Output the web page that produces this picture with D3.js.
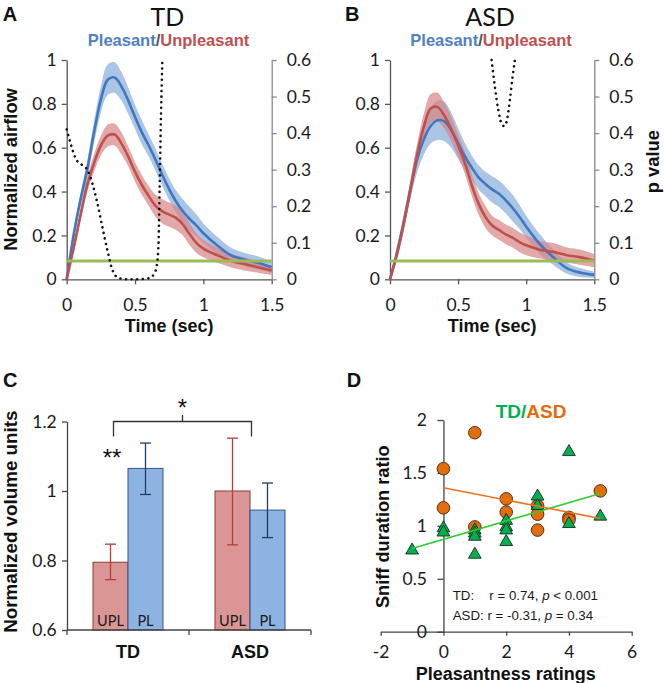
<!DOCTYPE html>
<html><head><meta charset="utf-8">
<script src="https://cdn.jsdelivr.net/npm/d3@7"></script>
<style>body{margin:0;background:#fff} svg{display:block}</style>
</head><body>
<svg id="c" width="664" height="683"></svg>
<script>
// ---------- DATA ----------
const timeSec = [0,0.05,0.1,0.15,0.2,0.25,0.3,0.35,0.4,0.45,0.5,0.55,0.6,0.65,0.7,0.75,0.8,0.85,0.9,0.95,1.0,1.1,1.2,1.3,1.4,1.5];
const tdPleasant      = [0,0.2,0.36,0.5,0.67,0.82,0.91,0.92,0.88,0.815,0.74,0.67,0.61,0.545,0.475,0.41,0.355,0.31,0.275,0.245,0.21,0.155,0.11,0.09,0.075,0.055];
const tdPleasantSem   = [0.01,0.02,0.03,0.04,0.05,0.06,0.07,0.07,0.065,0.06,0.055,0.055,0.05,0.05,0.05,0.05,0.05,0.055,0.055,0.05,0.045,0.04,0.035,0.03,0.03,0.025];
const tdUnpleasant    = [0,0.14,0.29,0.43,0.53,0.61,0.655,0.66,0.62,0.56,0.49,0.43,0.38,0.335,0.31,0.295,0.28,0.25,0.205,0.165,0.14,0.11,0.085,0.07,0.055,0.04];
const tdUnpleasantSem = [0.005,0.015,0.025,0.035,0.04,0.045,0.05,0.05,0.05,0.045,0.045,0.045,0.045,0.05,0.055,0.055,0.055,0.05,0.05,0.045,0.04,0.035,0.03,0.03,0.025,0.02];
const asdPleasant      = [0,0.12,0.26,0.41,0.55,0.64,0.70,0.725,0.72,0.68,0.62,0.56,0.51,0.465,0.435,0.41,0.39,0.36,0.325,0.285,0.24,0.16,0.10,0.05,0.03,0.02];
const asdPleasantSem   = [0.01,0.02,0.03,0.04,0.06,0.07,0.08,0.09,0.09,0.08,0.07,0.06,0.055,0.055,0.055,0.06,0.06,0.06,0.06,0.055,0.05,0.045,0.035,0.025,0.02,0.015];
const asdUnpleasant    = [0,0.11,0.25,0.41,0.57,0.70,0.78,0.785,0.745,0.685,0.61,0.53,0.43,0.345,0.285,0.245,0.225,0.205,0.19,0.17,0.155,0.135,0.125,0.11,0.1,0.085];
const asdUnpleasantSem = [0.005,0.02,0.03,0.04,0.05,0.06,0.065,0.065,0.06,0.055,0.05,0.05,0.05,0.05,0.05,0.045,0.045,0.045,0.045,0.045,0.045,0.04,0.04,0.035,0.035,0.03];

const tdPTime  = [0,0.03,0.066,0.115,0.151,0.188,0.225,0.261,0.298,0.335,0.383,0.45,0.52,0.6,0.64,0.66,0.672,0.68,0.69,0.70];
const tdPValue = [0.41,0.37,0.33,0.312,0.30,0.262,0.207,0.143,0.079,0.025,0.003,0,0,0.003,0.015,0.04,0.10,0.25,0.45,0.6];
const asdPTime  = [0.746,0.77,0.795,0.819,0.839,0.856,0.88,0.9,0.917];
const asdPValue = [0.6,0.527,0.463,0.426,0.419,0.431,0.49,0.554,0.6];
const alphaLevel = 0.05;

const airflowTicks = [0,0.2,0.4,0.6,0.8,1];
const pTicks = [0,0.1,0.2,0.3,0.4,0.5,0.6];
const timeTicks = [0,0.5,1,1.5];

const groups = ['TD','ASD'];
const conditions = ['UPL','PL'];
const volumeUPL = [0.795, 1.0];
const volumeUPLLow = [0.745, 0.845];
const volumeUPLHigh = [0.847, 1.152];
const volumePL = [1.065, 0.945];
const volumePLLow = [0.99, 0.866];
const volumePLHigh = [1.138, 1.023];
const volumeTicks = [0.6,0.8,1,1.2];

const tdRating = [-1,0,0,1,1,1,1,2,2,2,2,3,3,4,4,5];
const tdRatio  = [0.78,0.99,0.95,0.97,0.94,0.91,0.74,1.06,1.0,0.97,0.86,1.29,1.2,1.71,1.03,1.10];
const asdRating = [0,0,1,1,2,2,3,3,3,4,4,5];
const asdRatio  = [1.54,1.17,1.88,0.99,1.255,1.13,1.19,1.11,0.96,1.08,1.055,1.33];
const tdFitX = [-1,5], tdFitY = [0.787,1.305];
const asdFitX = [0,5], asdFitY = [1.36,1.07];
const ratingTicks = [-2,0,2,4,6];
const ratioTicks = [0,0.5,1,1.5,2];

// ---------- STYLE ----------
const TICK_FONT = 'Lato, "Open Sans", sans-serif';
const BOLD_FONT = '"Liberation Sans", Arial, sans-serif';
const BLUE = '#3f78bf', BLUE_BAND = '#86acdc';
const RED = '#c0504d', RED_BAND = '#d68583';
const fmt = d => String(+d.toFixed(2));
const svg = d3.select('#c');

function styleAxis(g, color) {
  g.selectAll('path, line').attr('stroke', color).attr('stroke-width', 1.3);
  g.selectAll('text').attr('fill', '#1a1a1a').attr('font-family', TICK_FONT).attr('font-size', 17.5);
  g.attr('font-family', null).attr('font-size', null);
}
function vlabel(x, y, text, size) {
  svg.append('text').attr('transform', `translate(${x},${y}) rotate(-90)`)
    .attr('text-anchor', 'middle').attr('font-family', BOLD_FONT).attr('font-weight', 'bold')
    .attr('font-size', size).attr('fill', '#111').text(text);
}
function letter(x, y, t) {
  svg.append('text').attr('x', x).attr('y', y).attr('font-family', BOLD_FONT).attr('font-weight', 'bold')
    .attr('font-size', 20).attr('fill', '#111').text(t);
}

// ---------- PANELS A & B ----------
function timePanel(o) {
  const x = d3.scaleLinear().domain([0,1.5]).range([o.left, o.right]);
  const y = d3.scaleLinear().domain([0,1]).range([279.3, 60]);
  const yp = d3.scaleLinear().domain([0,0.6]).range([279.3, 60]);
  const g = svg.append('g');

  const ax = g.append('g').attr('transform', `translate(0,279.3)`)
    .call(d3.axisBottom(x).tickValues(timeTicks).tickFormat(fmt).tickSize(5).tickSizeOuter(0).tickPadding(14));
  styleAxis(ax, '#555');
  const al = g.append('g').attr('transform', `translate(${o.left},0)`)
    .call(d3.axisLeft(y).tickValues(airflowTicks).tickFormat(fmt).tickSize(5).tickSizeOuter(0).tickPadding(5));
  styleAxis(al, '#555');
  const ar = g.append('g').attr('transform', `translate(${o.right},0)`)
    .call(d3.axisRight(yp).tickValues(pTicks).tickFormat(fmt).tickSize(5).tickSizeOuter(0).tickPadding(10));
  styleAxis(ar, '#8a8a8a');

  const rows = (m, s) => timeSec.map((t, i) => ({t, m: m[i], s: s[i]}));
  const curve = d3.curveCatmullRom.alpha(0.5);
  const area = d3.area().x(d => x(d.t)).y0(d => y(Math.max(0, d.m - d.s))).y1(d => y(d.m + d.s)).curve(curve);
  const line = d3.line().x(d => x(d.t)).y(d => y(d.m)).curve(curve);
  const P = rows(o.pl, o.plSem), U = rows(o.upl, o.uplSem);

  g.append('path').attr('d', area(P)).attr('fill', BLUE_BAND).attr('opacity', 0.7);
  g.append('path').attr('d', area(U)).attr('fill', RED_BAND).attr('opacity', 0.7);
  g.append('path').attr('d', line(P)).attr('fill', 'none').attr('stroke', BLUE).attr('stroke-width', 2.6);
  g.append('path').attr('d', line(U)).attr('fill', 'none').attr('stroke', RED).attr('stroke-width', 2.6);

  g.append('line').attr('x1', x(0)).attr('x2', x(1.5)).attr('y1', yp(alphaLevel)).attr('y2', yp(alphaLevel))
    .attr('stroke', '#9bbb59').attr('stroke-width', 3);

  const pl = d3.line().x((d, i) => x(o.pT[i])).y(d => yp(d)).curve(d3.curveMonotoneX);
  g.append('path').attr('d', pl(o.pV)).attr('fill', 'none').attr('stroke', '#111')
    .attr('stroke-width', 2.6).attr('stroke-linecap', 'round').attr('stroke-dasharray', '0.01 5.6');

  // titles
  g.append('text').attr('x', o.titleX).attr('y', 26).attr('text-anchor', 'middle')
    .attr('font-family', TICK_FONT).attr('font-size', 25).attr('fill', '#111').text(o.title);
  const st = g.append('text').attr('x', o.titleX + 1).attr('y', 46.3).attr('text-anchor', 'middle')
    .attr('font-family', BOLD_FONT).attr('font-weight', 'bold').attr('font-size', 16.5);
  st.append('tspan').attr('fill', '#4f81c4').text('Pleasant');
  st.append('tspan').attr('fill', '#555').text('/');
  st.append('tspan').attr('fill', RED).text('Unpleasant');

  g.append('text').attr('x', (o.left + o.right) / 2).attr('y', 332).attr('text-anchor', 'middle')
    .attr('font-family', BOLD_FONT).attr('font-weight', 'bold').attr('font-size', 18).attr('fill', '#111').text('Time (sec)');
}

timePanel({left: 66.7, right: 271.7, title: 'TD', titleX: 167.5,
  pl: tdPleasant, plSem: tdPleasantSem, upl: tdUnpleasant, uplSem: tdUnpleasantSem, pT: tdPTime, pV: tdPValue});
timePanel({left: 390, right: 594.3, title: 'ASD', titleX: 490,
  pl: asdPleasant, plSem: asdPleasantSem, upl: asdUnpleasant, uplSem: asdUnpleasantSem, pT: asdPTime, pV: asdPValue});
vlabel(16.7, 169.5, 'Normalized airflow', 18.3);
vlabel(659, 161.7, 'p value', 18.3);
letter(2.7, 20.7, 'A');
letter(345, 20.7, 'B');

// ---------- PANEL C ----------
(function(){
  const g = svg.append('g');
  const x0 = d3.scaleBand().domain(groups).range([67, 311]);
  const x1 = d3.scaleBand().domain(conditions).range([0, x0.bandwidth()]).paddingOuter(0.743);
  const y = d3.scaleLinear().domain([0.6, 1.2]).range([630, 421.5]);
  const bw = x1.bandwidth();

  const al = g.append('g').attr('transform', 'translate(67,0)')
    .call(d3.axisLeft(y).tickValues(volumeTicks).tickFormat(fmt).tickSize(5).tickSizeOuter(0).tickPadding(5.3));
  styleAxis(al, '#444');

  const bars = [];
  groups.forEach((grp, i) => {
    bars.push({grp, cond: 'UPL', v: volumeUPL[i], lo: volumeUPLLow[i], hi: volumeUPLHigh[i]});
    bars.push({grp, cond: 'PL', v: volumePL[i], lo: volumePLLow[i], hi: volumePLHigh[i]});
  });
  const bx = d => x0(d.grp) + x1(d.cond);
  g.selectAll('rect.bar').data(bars).join('rect')
    .attr('x', bx).attr('width', bw).attr('y', d => y(d.v)).attr('height', d => y(0.6) - y(d.v))
    .attr('fill', d => d.cond === 'UPL' ? '#d99694' : '#8db3e2')
    .attr('stroke', d => d.cond === 'UPL' ? '#8c3b39' : '#2f5690').attr('stroke-width', 1);
  g.selectAll('text.cl').data(bars).join('text')
    .attr('x', d => bx(d) + bw / 2).attr('y', 625.7).attr('text-anchor', 'middle')
    .attr('font-family', TICK_FONT).attr('font-size', 14.5).attr('fill', '#1a1a1a').text(d => d.cond);
  // error bars
  const eg = g.selectAll('g.err').data(bars).join('g')
    .attr('stroke', d => d.cond === 'UPL' ? '#b83b38' : '#1f3d6b').attr('stroke-width', 1.3);
  eg.append('line').attr('x1', d => bx(d) + bw / 2).attr('x2', d => bx(d) + bw / 2).attr('y1', d => y(d.lo)).attr('y2', d => y(d.hi));
  eg.append('line').attr('x1', d => bx(d) + bw / 2 - 5.5).attr('x2', d => bx(d) + bw / 2 + 5.5).attr('y1', d => y(d.hi)).attr('y2', d => y(d.hi));
  eg.append('line').attr('x1', d => bx(d) + bw / 2 - 5.5).attr('x2', d => bx(d) + bw / 2 + 5.5).attr('y1', d => y(d.lo)).attr('y2', d => y(d.lo));

  // x axis
  const axg = g.append('g').attr('stroke', '#444').attr('stroke-width', 1.3);
  axg.append('line').attr('x1', x0.range()[0]).attr('x2', x0.range()[1]).attr('y1', 630).attr('y2', 630);
  [x0.range()[0], x0('ASD'), x0.range()[1]].forEach(v =>
    axg.append('line').attr('x1', v).attr('x2', v).attr('y1', 630).attr('y2', 635));
  g.selectAll('text.grp').data(groups).join('text')
    .attr('x', d => x0(d) + x0.bandwidth() / 2).attr('y', 658.3).attr('text-anchor', 'middle')
    .attr('font-family', BOLD_FONT).attr('font-weight', 'bold').attr('font-size', 18).attr('fill', '#111').text(d => d);

  // significance bracket
  const bl = x0('TD') + x1('UPL') + bw / 2 + 3, br = x0('ASD') + x1('PL') + 1.5, by = y(1.2);
  const mid = (bl + br) / 2;
  g.append('path').attr('d', `M${bl},${by + 15}V${by}H${br}V${by + 15}M${mid},${by}V${by - 6.5}`)
    .attr('fill', 'none').attr('stroke', '#333').attr('stroke-width', 1.3);
  g.append('text').attr('x', mid).attr('y', 416).attr('text-anchor', 'middle')
    .attr('font-family', BOLD_FONT).attr('font-size', 24).attr('fill', '#111').text('*');
  g.append('text').attr('x', x0('TD') + x1('UPL') + bw / 2 + 1.5).attr('y', 466).attr('text-anchor', 'middle')
    .attr('font-family', BOLD_FONT).attr('font-size', 24).attr('fill', '#111').text('**');
})();
vlabel(16.7, 521.7, 'Normalized volume units', 18.8);
letter(3, 387.3, 'C');

// ---------- PANEL D ----------
(function(){
  const g = svg.append('g');
  const x = d3.scaleLinear().domain([-2, 6]).range([380.7, 631.7]);
  const y = d3.scaleLinear().domain([0, 2]).range([631.7, 420]);

  const ax = g.append('g').attr('transform', `translate(0,${y(0)})`)
    .call(d3.axisBottom(x).tickValues(ratingTicks).tickFormat(d => String(d)).tickSize(4).tickSizeOuter(0).tickPadding(10));
  styleAxis(ax, '#444');
  const al = g.append('g').attr('transform', `translate(${x(0)},0)`)
    .call(d3.axisLeft(y).tickValues(ratioTicks).tickFormat(fmt).tickSize(6).tickSizeOuter(0).tickPadding(10.5));
  styleAxis(al, '#444');

  const asd = asdRating.map((r, i) => ({r, v: asdRatio[i]}));
  const td = tdRating.map((r, i) => ({r, v: tdRatio[i]}));
  g.selectAll('circle.asd').data(asd).join('circle')
    .attr('cx', d => x(d.r)).attr('cy', d => y(d.v)).attr('r', 6.3)
    .attr('fill', '#e46c0a').attr('stroke', '#3a2a1a').attr('stroke-width', 0.9);
  const tri = d3.symbol().type(d3.symbolTriangle).size(70);
  g.selectAll('path.td').data(td).join('path')
    .attr('d', tri).attr('transform', d => `translate(${x(d.r)},${y(d.v) + 1.2})`)
    .attr('fill', '#00b050').attr('stroke', '#1a2a1a').attr('stroke-width', 0.9);

  g.append('line').attr('x1', x(tdFitX[0])).attr('x2', x(tdFitX[1])).attr('y1', y(tdFitY[0])).attr('y2', y(tdFitY[1]))
    .attr('stroke', '#2ecc2e').attr('stroke-width', 1.6);
  g.append('line').attr('x1', x(asdFitX[0])).attr('x2', x(asdFitX[1])).attr('y1', y(asdFitY[0])).attr('y2', y(asdFitY[1]))
    .attr('stroke', '#f07020').attr('stroke-width', 1.6);

  const tt = g.append('text').attr('x', 531).attr('y', 418.3).attr('text-anchor', 'middle')
    .attr('font-family', BOLD_FONT).attr('font-weight', 'bold').attr('font-size', 19);
  tt.append('tspan').attr('fill', '#00b050').text('TD/');
  tt.append('tspan').attr('fill', '#e46c0a').text('ASD');

  const ann = (xx, yy, parts) => {
    const t = g.append('text').attr('x', xx).attr('y', yy).attr('font-family', BOLD_FONT).attr('font-size', 13.3).attr('fill', '#1a1a1a');
    parts.forEach(p => t.append('tspan').attr('font-style', p[1] ? 'italic' : null).text(p[0]));
  };
  ann(452.7, 599.5, [['TD:', 0]]);
  ann(489.3, 599.5, [['r = 0.74, ', 0], ['p', 1], [' < 0.001', 0]]);
  ann(452.7, 619.5, [['ASD: r = -0.31, ', 0], ['p', 1], [' = 0.34', 0]]);

  g.append('text').attr('x', 505.8).attr('y', 679.5).attr('text-anchor', 'middle')
    .attr('font-family', BOLD_FONT).attr('font-weight', 'bold').attr('font-size', 18).attr('fill', '#111').text('Pleasantness ratings');
})();
vlabel(389.3, 526.7, 'Sniff duration ratio', 18.2);
letter(346.7, 387.3, 'D');
</script>
</body></html>
